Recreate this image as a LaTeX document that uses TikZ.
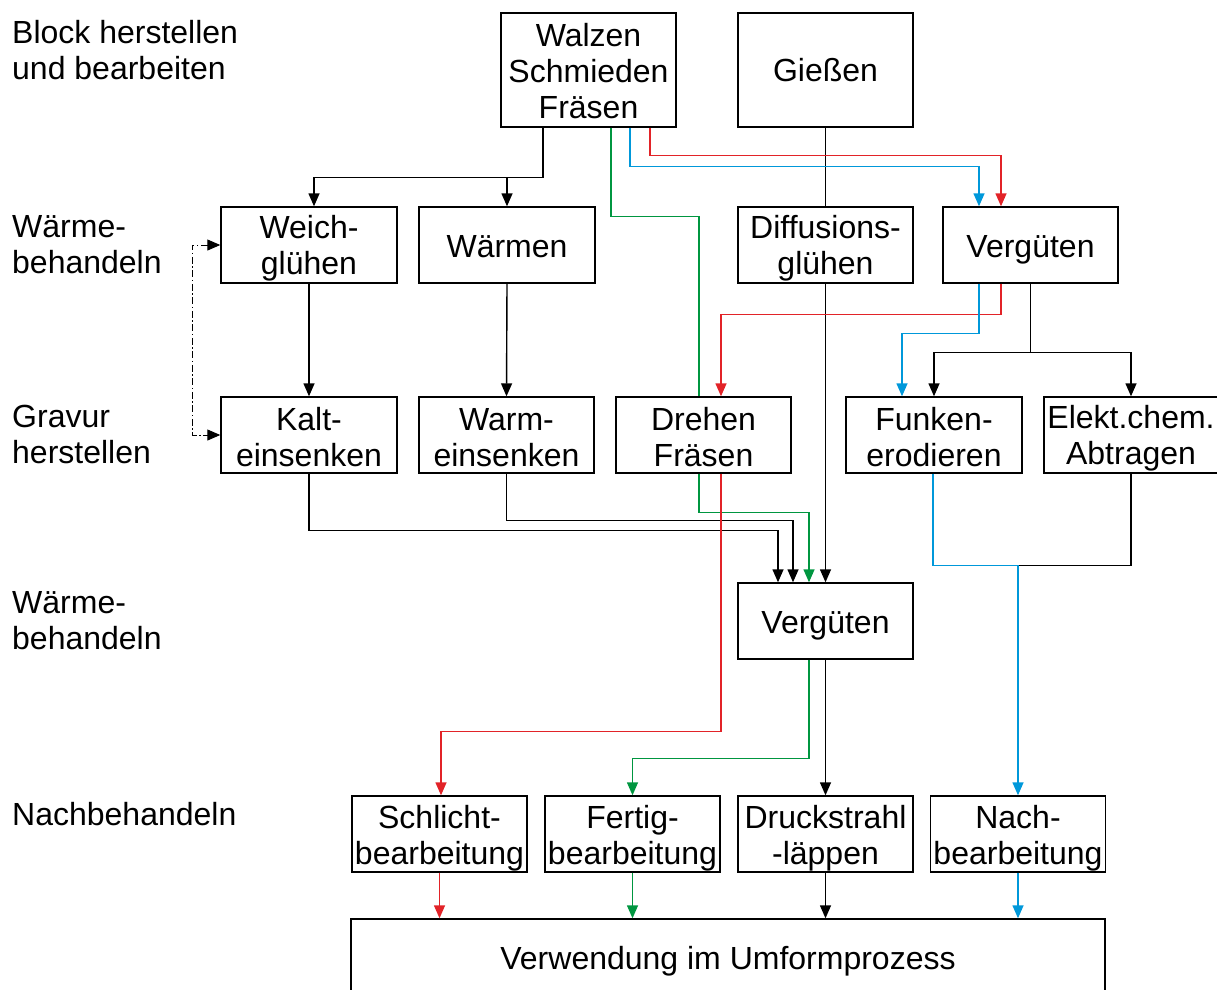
\documentclass[tikz,border=0pt]{standalone}
\usepackage{fontspec}
\setmainfont{Liberation Sans}
\usetikzlibrary{arrows.meta}
\definecolor{cred}{RGB}{226,35,40}
\definecolor{cgreen}{RGB}{0,150,64}
\definecolor{cblue}{RGB}{0,152,218}
% #1 name, #2 x, #3 y, #4 width, #5 height, #6 text shift (down), #7 text
\newcommand{\mybox}[7]{%
  \node[frame, minimum width=#4, minimum height=#5] (#1) at (#2,#3) {};
  \node[txt] (#1-t) at ([yshift=-#6]#1.center) {#7};}
\begin{document}
\begin{tikzpicture}[x=1pt,y=-1pt,
 frame/.style={draw, line width=1.4pt, inner sep=0pt},
 txt/.style={inner sep=0pt, align=center, font=\fontsize{32}{36}\selectfont},
 lab/.style={anchor=west, inner sep=0pt, align=left, font=\fontsize{32}{36}\selectfont},
 con/.style={line width=1.4pt},
 tip/.tip={Triangle[width=11pt,length=13pt]},
 arr/.style={con, -tip},
]
\useasboundingbox (0,0) rectangle (1217,989);
\clip (0,0) rectangle (1217,989);

% left labels
\node[lab] (l1) at (12,50) {Block herstellen\\und bearbeiten};
\node[lab] (l2) at (12,245) {Wärme-\\behandeln};
\node[lab] (l3) at (12,434) {Gravur\\herstellen};
\node[lab] (l4) at (12,621) {Wärme-\\behandeln};
\node[lab] (l5) at (12,814) {Nachbehandeln};

% boxes
\mybox{walz}{588.5}{70}{175pt}{114pt}{1pt}{Walzen\\Schmieden\\Fräsen}
\mybox{giess}{825.5}{70}{175pt}{114pt}{0pt}{Gießen}
\mybox{weich}{309}{245}{176pt}{76pt}{3pt}{Weich-\\glühen}
\mybox{waerm}{507}{245}{176pt}{76pt}{2pt}{Wärmen}
\mybox{diff}{825.5}{245}{175pt}{76pt}{3pt}{Diffusions-\\glühen}
\mybox{verg1}{1030.5}{245}{175pt}{76pt}{5pt}{Vergüten}
\mybox{kalt}{309}{435}{176pt}{76pt}{2.5pt}{Kalt-\\einsenken}
\mybox{warmE}{506.5}{435}{175pt}{76pt}{2.5pt}{Warm-\\einsenken}
\mybox{dreh}{703.5}{435}{175pt}{76pt}{2.5pt}{Drehen\\Fräsen}
\mybox{funk}{934}{435}{176pt}{76pt}{2.5pt}{Funken-\\erodieren}
\mybox{elek}{1131}{435}{174pt}{76pt}{3.5pt}{Elekt.chem.\\Abtragen}
\mybox{verg2}{825.5}{621}{175pt}{76pt}{5pt}{Vergüten}
\mybox{schl}{439.5}{834}{175pt}{76pt}{4pt}{Schlicht-\\bearbeitung}
\mybox{fert}{632.5}{834}{175pt}{76pt}{4pt}{Fertig-\\bearbeitung}
\mybox{druck}{825.5}{834}{175pt}{76pt}{4pt}{Druckstrahl\\-läppen}
\mybox{nach}{1018}{834}{175pt}{76pt}{4pt}{Nach-\\bearbeitung}
\mybox{verw}{728}{959}{754pt}{80pt}{2pt}{Verwendung im Umformprozess}

% black connectors
\draw[arr] ([xshift=-45.5pt]walz.south) -- ++(0,50) coordinate (j1) -| ([xshift=5pt]weich.north);
\draw[arr] (j1 -| waerm.north) -- (waerm.north);
\draw[con] (giess.south) -- (diff.north);
\draw[arr] (diff.south) -- (verg2.north);
\draw[arr] (weich.south) -- (kalt.north);
\draw[arr] (waerm.south) -- (warmE.north);
\draw[con, line width=1pt, dash pattern=on 7pt off 2.5pt on 1.5pt off 2.5pt, tip-tip] (weich.west) -- ++(-28,0) |- (kalt.west);
\draw[con] (verg1.south) -- ++(0,69) coordinate (j2);
\draw[arr] (j2) -| (funk.north);
\draw[arr] (j2) -| (elek.north);
\draw[arr] (kalt.south) -- ++(0,57) -| ([xshift=-47.5pt]verg2.north);
\draw[arr] (warmE.south) -- ++(0,47) -| ([xshift=-32.5pt]verg2.north);
\draw[arr] (verg2.south) -- (druck.north);
\draw[arr] (druck.south) -- (druck.south |- verw.north);

% green
\draw[con, cgreen] ([xshift=22.5pt]walz.south) -- ++(0,89) -| ([xshift=-4.5pt]dreh.north);
\draw[arr, cgreen] ([xshift=-4.5pt]dreh.south) -- ++(0,39) -| ([xshift=-16.5pt]verg2.north);
\draw[arr, cgreen] ([xshift=-16.5pt]verg2.south) -- ++(0,99) -| (fert.north);
\draw[arr, cgreen] (fert.south) -- (fert.south |- verw.north);

% red
\draw[arr, cred] ([xshift=61.5pt]walz.south) -- ++(0,28) -| ([xshift=-29.5pt]verg1.north);
\draw[arr, cred] ([xshift=-29.5pt]verg1.south) -- ++(0,31) -| ([xshift=17.5pt]dreh.north);
\draw[arr, cred] ([xshift=17.5pt]dreh.south) -- ++(0,258) -| ([xshift=1.5pt]schl.north);
\draw[arr, cred] (schl.south) -- (schl.south |- verw.north);

% blue
\draw[arr, cblue] ([xshift=41.5pt]walz.south) -- ++(0,39) -| ([xshift=-51.5pt]verg1.north);
\draw[arr, cblue] ([xshift=-51.5pt]verg1.south) -- ++(0,50) -| ([xshift=-32pt]funk.north);
\path ([xshift=-1pt]funk.south) -- ++(0,92) coordinate (j3);
\draw[con] (elek.south) |- (j3 -| nach.north);
\draw[arr, cblue] ([xshift=-1pt]funk.south) -- (j3) -| (nach.north);
\draw[arr, cblue] (nach.south) -- (nach.south |- verw.north);
\end{tikzpicture}
\end{document}
